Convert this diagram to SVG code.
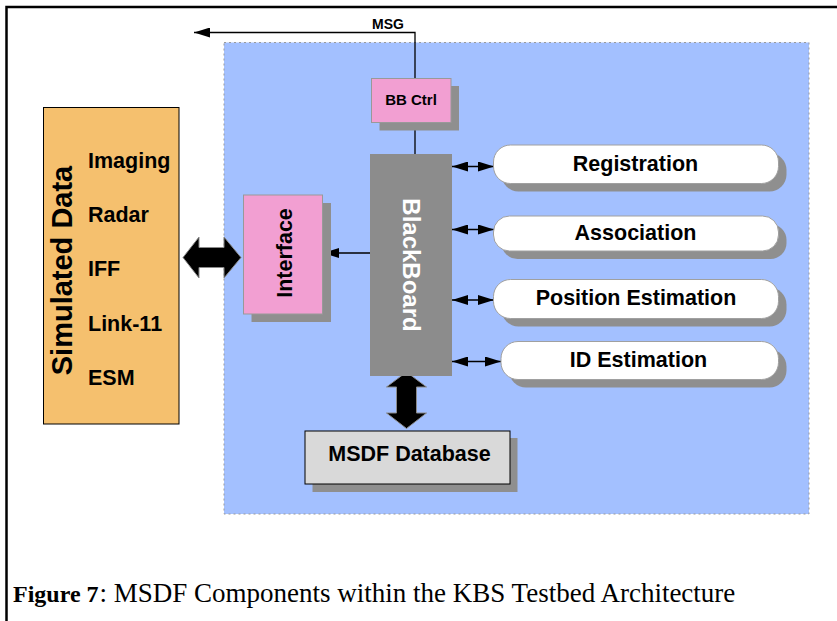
<svg xmlns="http://www.w3.org/2000/svg" width="837" height="621" viewBox="0 0 837 621">
  <style>
    .lbl { font-family: "Liberation Sans", Arial, sans-serif; font-weight: bold; fill: #000; }
    .shadow { fill: #8F8F8F; }
    .pill { fill: #FFFFFF; stroke: #A0A0A0; stroke-width: 1; }
    .link { stroke: #000; stroke-width: 1.3; fill: none; }
    .fat { fill: #000; stroke: #8A8A8A; stroke-width: 1; }
    .cap { font-family: "Liberation Serif", "Times New Roman", serif; fill: #000; }
  </style>
  <defs>
    <marker id="ah" viewBox="0 0 16 10" refX="16" refY="5" markerWidth="16" markerHeight="10"
            markerUnits="userSpaceOnUse" orient="auto-start-reverse">
      <path d="M0,0 L16,5 L0,10 z" fill="#000"/>
    </marker>
  </defs>

  <rect width="837" height="621" fill="#FFFFFF"/>

  <!-- page frame -->
  <path d="M6.5,621 L6.5,7 L837,7" fill="none" stroke="#000" stroke-width="2.5"/>

  <!-- system boundary -->
  <rect id="system" x="224" y="42.5" width="585" height="471.5" fill="#A3C0FF" stroke="#9A9A9A" stroke-width="1" stroke-dasharray="2 3"/>

  <!-- connectors -->
  <g id="connectors">
    <path class="link" d="M415,78 L415,32.5 L194,32.5" marker-end="url(#ah)"/>
    <line class="link" x1="415" y1="123" x2="415" y2="154"/>
    <line class="link" x1="370" y1="253" x2="323" y2="253" marker-end="url(#ah)"/>
    <line class="link" x1="452" y1="166.5" x2="494" y2="166.5" marker-start="url(#ah)" marker-end="url(#ah)"/>
    <line class="link" x1="452" y1="229.5" x2="494" y2="229.5" marker-start="url(#ah)" marker-end="url(#ah)"/>
    <line class="link" x1="452" y1="300" x2="494" y2="300" marker-start="url(#ah)" marker-end="url(#ah)"/>
    <line class="link" x1="452" y1="361.5" x2="501" y2="361.5" marker-start="url(#ah)" marker-end="url(#ah)"/>
    <polygon class="fat" points="183,257.5 199,237 199,247.5 224,247.5 224,237 241,257.5 224,278 224,267.5 199,267.5 199,278"/>
    <polygon class="fat" points="406.5,372 426.5,387 416.5,387 416.5,413 426.5,413 406.5,428.5 386.5,413 396.5,413 396.5,387 386.5,387"/>
    <text class="lbl" x="388" y="28.5" font-size="14" text-anchor="middle">MSG</text>
  </g>

  <!-- simulated data sources -->
  <g id="simulated-data">
    <rect x="43.5" y="107.5" width="135.5" height="316.5" fill="#F5C06E" stroke="#000" stroke-width="1"/>
    <text class="lbl" font-size="29" text-anchor="middle" transform="translate(72,270.5) rotate(-90)">Simulated Data</text>
    <text class="lbl" font-size="21.5" x="88" y="168">Imaging</text>
    <text class="lbl" font-size="21.5" x="88" y="221.5">Radar</text>
    <text class="lbl" font-size="21.5" x="88" y="275.5">IFF</text>
    <text class="lbl" font-size="21.5" x="88" y="330.5">Link-11</text>
    <text class="lbl" font-size="21.5" x="88" y="385">ESM</text>
  </g>

  <!-- interface -->
  <g id="interface">
    <rect class="shadow" x="251.5" y="203" width="79.5" height="119"/>
    <rect x="243.5" y="195" width="79" height="119" fill="#F29FD2" stroke="#999" stroke-width="1"/>
    <text class="lbl" font-size="21.5" text-anchor="middle" transform="translate(291.5,253) rotate(-90)">Interface</text>
  </g>

  <!-- blackboard controller -->
  <g id="bb-ctrl">
    <rect class="shadow" x="379.5" y="86" width="79.5" height="44.5"/>
    <rect x="371.5" y="78.5" width="79.5" height="44" fill="#F29FD2" stroke="#999" stroke-width="1"/>
    <text class="lbl" font-size="15" x="411" y="104.5" text-anchor="middle">BB Ctrl</text>
  </g>

  <!-- blackboard -->
  <g id="blackboard">
    <rect x="370" y="154" width="82" height="222" fill="#8C8C8C"/>
    <text class="lbl" font-size="24" text-anchor="middle" style="fill:#FFFFFF" transform="translate(402.5,265) rotate(90)">BlackBoard</text>
  </g>

  <!-- knowledge sources -->
  <g id="registration">
    <rect class="shadow" x="501.5" y="153" width="285" height="38.5" rx="17"/>
    <rect class="pill" x="493.5" y="145" width="285" height="38.5" rx="17"/>
    <text class="lbl" font-size="21.5" x="635.5" y="171" text-anchor="middle">Registration</text>
  </g>
  <g id="association">
    <rect class="shadow" x="501.5" y="224" width="285" height="35" rx="16"/>
    <rect class="pill" x="493.5" y="216" width="285" height="35" rx="16"/>
    <text class="lbl" font-size="21.5" x="635.5" y="240" text-anchor="middle">Association</text>
  </g>
  <g id="position-estimation">
    <rect class="shadow" x="501.5" y="287.5" width="285" height="39" rx="17"/>
    <rect class="pill" x="493.5" y="279.5" width="285" height="39" rx="17"/>
    <text class="lbl" font-size="21.5" x="636" y="305" text-anchor="middle">Position Estimation</text>
  </g>
  <g id="id-estimation">
    <rect class="shadow" x="509" y="349.5" width="277.5" height="38" rx="17"/>
    <rect class="pill" x="501" y="341.5" width="277.5" height="38" rx="17"/>
    <text class="lbl" font-size="21.5" x="638.5" y="367" text-anchor="middle">ID Estimation</text>
  </g>

  <!-- database -->
  <g id="msdf-database">
    <rect class="shadow" x="312.5" y="438" width="205" height="54"/>
    <rect x="305" y="431" width="205" height="53" fill="#D9D9D9" stroke="#000" stroke-width="1"/>
    <text class="lbl" font-size="21.5" x="409.5" y="461" text-anchor="middle">MSDF Database</text>
  </g>

  <!-- caption -->
  <text class="cap" x="13" y="602" font-size="24" font-weight="bold">Figure 7</text>
  <text class="cap" x="99.5" y="602" font-size="27">: MSDF Components within the KBS Testbed Architecture</text>
</svg>
